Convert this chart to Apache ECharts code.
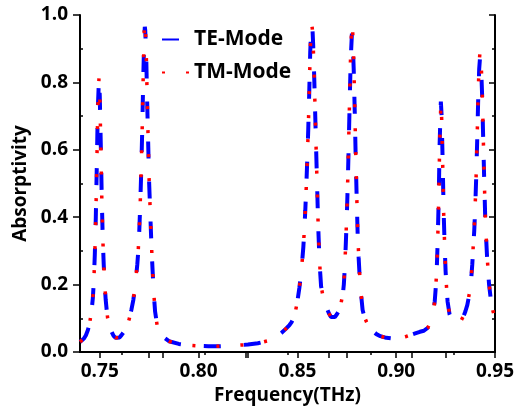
<!DOCTYPE html>
<html>
<head>
<meta charset="utf-8">
<script src="https://cdn.jsdelivr.net/npm/echarts@6/dist/echarts.min.js"></script>
<style>
  html, body { margin: 0; padding: 0; background: #fff; }
  #container { width: 524px; height: 410px; }
</style>
</head>
<body>
<div id="container"></div>
<script>
const freq = [
  0.740, 0.742, 0.743, 0.744, 0.745, 0.746, 0.7465, 0.747, 0.7475, 0.748,
  0.7485, 0.749, 0.7496, 0.750, 0.7505, 0.751, 0.7515, 0.752, 0.7525, 0.753,
  0.7535, 0.754, 0.755, 0.756, 0.757, 0.758, 0.759, 0.760, 0.761, 0.762,
  0.763, 0.764, 0.765, 0.766, 0.767, 0.768, 0.769, 0.7695, 0.770, 0.7705,
  0.771, 0.7715, 0.772, 0.7725, 0.7728, 0.773, 0.7735, 0.774, 0.7745, 0.775,
  0.7755, 0.776, 0.7765, 0.777, 0.7775, 0.778, 0.779, 0.780, 0.782, 0.785,
  0.790, 0.795, 0.800, 0.805, 0.810, 0.815, 0.820, 0.825, 0.830, 0.835,
  0.838, 0.840, 0.842, 0.844, 0.846, 0.847, 0.848, 0.849, 0.850, 0.851,
  0.852, 0.853, 0.8535, 0.854, 0.8545, 0.855, 0.8555, 0.856, 0.8565, 0.857,
  0.8573, 0.8577, 0.858, 0.8585, 0.859, 0.8595, 0.860, 0.8605, 0.861, 0.8615,
  0.862, 0.863, 0.864, 0.865, 0.866, 0.867, 0.868, 0.869, 0.870, 0.871,
  0.872, 0.873, 0.8735, 0.874, 0.8745, 0.875, 0.8755, 0.876, 0.8765, 0.877,
  0.8776, 0.878, 0.8785, 0.879, 0.8795, 0.880, 0.8805, 0.881, 0.8815, 0.882,
  0.883, 0.884, 0.885, 0.886, 0.888, 0.890, 0.892, 0.895, 0.898, 0.900,
  0.903, 0.905, 0.908, 0.910, 0.912, 0.914, 0.915, 0.916, 0.917, 0.918,
  0.919, 0.9195, 0.920, 0.9205, 0.921, 0.9215, 0.922, 0.9226, 0.923, 0.9235,
  0.924, 0.9245, 0.925, 0.9255, 0.926, 0.927, 0.928, 0.929, 0.930, 0.931,
  0.932, 0.933, 0.934, 0.935, 0.936, 0.937, 0.938, 0.9385, 0.939, 0.9395,
  0.940, 0.9405, 0.941, 0.9415, 0.942, 0.9424, 0.943, 0.9435, 0.944, 0.9445,
  0.945, 0.9455, 0.946, 0.947, 0.948, 0.949, 0.950
]

const teMode = [
  0.030, 0.040, 0.050, 0.065, 0.090, 0.130, 0.160, 0.210, 0.290, 0.400,
  0.550, 0.720, 0.810, 0.760, 0.620, 0.460, 0.340, 0.260, 0.200, 0.155,
  0.125, 0.100, 0.075, 0.060, 0.048, 0.042, 0.040, 0.043, 0.050, 0.058,
  0.065, 0.080, 0.100, 0.125, 0.155, 0.200, 0.260, 0.300, 0.360, 0.440,
  0.540, 0.660, 0.810, 0.930, 0.965, 0.955, 0.880, 0.740, 0.620, 0.500,
  0.420, 0.340, 0.270, 0.210, 0.160, 0.120, 0.080, 0.060, 0.045, 0.032,
  0.024, 0.020, 0.018, 0.017, 0.017, 0.018, 0.020, 0.022, 0.026, 0.033,
  0.040, 0.047, 0.057, 0.068, 0.080, 0.088, 0.100, 0.120, 0.150, 0.190,
  0.240, 0.310, 0.360, 0.420, 0.490, 0.570, 0.660, 0.770, 0.890, 0.960,
  0.970, 0.950, 0.910, 0.820, 0.710, 0.600, 0.490, 0.380, 0.300, 0.240,
  0.195, 0.165, 0.145, 0.128, 0.114, 0.104, 0.100, 0.104, 0.112, 0.122,
  0.140, 0.170, 0.200, 0.250, 0.320, 0.400, 0.500, 0.620, 0.750, 0.870,
  0.945, 0.920, 0.840, 0.720, 0.580, 0.460, 0.350, 0.280, 0.225, 0.185,
  0.125, 0.102, 0.088, 0.078, 0.063, 0.053, 0.047, 0.042, 0.040, 0.040,
  0.043, 0.046, 0.052, 0.056, 0.060, 0.063, 0.066, 0.072, 0.085, 0.105,
  0.130, 0.150, 0.190, 0.240, 0.330, 0.450, 0.620, 0.743, 0.700, 0.570,
  0.420, 0.320, 0.240, 0.190, 0.150, 0.112, 0.096, 0.089, 0.086, 0.085,
  0.088, 0.095, 0.105, 0.120, 0.140, 0.170, 0.220, 0.260, 0.310, 0.360,
  0.430, 0.520, 0.630, 0.750, 0.840, 0.872, 0.840, 0.760, 0.640, 0.520,
  0.410, 0.340, 0.280, 0.200, 0.150, 0.120, 0.100
]

const tmMode = [
  0.030, 0.040, 0.050, 0.065, 0.090, 0.130, 0.160, 0.210, 0.290, 0.400,
  0.550, 0.720, 0.812, 0.765, 0.625, 0.465, 0.345, 0.262, 0.200, 0.155,
  0.125, 0.100, 0.075, 0.060, 0.048, 0.042, 0.040, 0.043, 0.050, 0.058,
  0.066, 0.080, 0.100, 0.126, 0.157, 0.202, 0.263, 0.304, 0.365, 0.446,
  0.548, 0.670, 0.822, 0.950, 0.980, 0.972, 0.895, 0.752, 0.628, 0.506,
  0.425, 0.344, 0.272, 0.212, 0.161, 0.121, 0.080, 0.060, 0.045, 0.032,
  0.024, 0.020, 0.018, 0.017, 0.017, 0.018, 0.020, 0.022, 0.026, 0.033,
  0.040, 0.047, 0.057, 0.068, 0.080, 0.088, 0.100, 0.120, 0.150, 0.190,
  0.240, 0.310, 0.360, 0.420, 0.490, 0.570, 0.660, 0.772, 0.892, 0.962,
  0.972, 0.952, 0.912, 0.822, 0.712, 0.600, 0.490, 0.380, 0.300, 0.240,
  0.195, 0.165, 0.145, 0.128, 0.114, 0.104, 0.100, 0.105, 0.113, 0.124,
  0.142, 0.173, 0.204, 0.256, 0.328, 0.410, 0.514, 0.638, 0.772, 0.898,
  0.975, 0.950, 0.866, 0.742, 0.598, 0.474, 0.360, 0.288, 0.230, 0.188,
  0.127, 0.103, 0.089, 0.078, 0.063, 0.053, 0.047, 0.042, 0.040, 0.040,
  0.043, 0.046, 0.052, 0.056, 0.060, 0.063, 0.066, 0.072, 0.085, 0.105,
  0.130, 0.150, 0.190, 0.240, 0.330, 0.448, 0.615, 0.738, 0.695, 0.566,
  0.418, 0.320, 0.240, 0.190, 0.150, 0.112, 0.096, 0.089, 0.086, 0.085,
  0.088, 0.095, 0.106, 0.121, 0.142, 0.173, 0.224, 0.265, 0.316, 0.368,
  0.440, 0.532, 0.645, 0.768, 0.860, 0.890, 0.858, 0.776, 0.654, 0.531,
  0.418, 0.346, 0.285, 0.203, 0.152, 0.121, 0.100
]

const xLabels = [0.75, 0.80, 0.85, 0.90, 0.95]
const xTicks = [0.75, 0.775, 0.80, 0.825, 0.85, 0.875, 0.90, 0.925, 0.95]
const topLong = [0.782, 0.824, 0.866, 0.908, 0.95]
const topShort = [0.761, 0.803, 0.845, 0.887, 0.929]
const yMinor = [0.1, 0.3, 0.5, 0.7, 0.9]

const font = '"Open Sans", sans-serif'
const black = '#000'

const chart = echarts.init(document.getElementById('container'))

const hidden = { show: false }
const xBase = { type: 'value', min: 0.74, max: 0.95, splitLine: hidden }
const yBase = { type: 'value', min: 0, max: 1, splitLine: hidden }
const bold = size => ({ fontFamily: font, fontWeight: 'bold', fontSize: size, color: black })

chart.setOption({
  backgroundColor: '#fff',
  animation: false,
  grid: { left: 80, right: 29, top: 15, bottom: 58, outerBoundsMode: 'none' },
  legend: {
    data: ['TE-Mode', 'TM-Mode'],
    orient: 'vertical',
    left: 156,
    top: 24,
    itemWidth: 27,
    itemHeight: 14,
    itemGap: 12,
    itemTextGap: 13,
    itemStyle: { opacity: 0 },
    textStyle: bold(21)
  },
  xAxis: [
    {
      ...xBase,
      position: 'bottom',
      name: 'Frequency(THz)',
      nameLocation: 'middle',
      nameGap: 33,
      nameTextStyle: bold(19),
      axisLine: { lineStyle: { color: black, width: 2 } },
      axisTick: { customValues: xTicks, length: 6, lineStyle: { color: black, width: 1.5 } },
      axisLabel: { customValues: xLabels, margin: 10, formatter: v => v.toFixed(2), ...bold(19) }
    },
    {
      ...xBase,
      position: 'top',
      axisLine: { lineStyle: { color: black, width: 2 } },
      axisTick: { inside: true, customValues: topLong, length: 6, lineStyle: { color: black, width: 1.5 } },
      axisLabel: hidden
    },
    {
      ...xBase,
      position: 'top',
      axisLine: hidden,
      axisTick: { inside: true, customValues: topShort, length: 3, lineStyle: { color: black, width: 1.5 } },
      axisLabel: hidden
    }
  ],
  yAxis: [
    {
      ...yBase,
      position: 'left',
      interval: 0.2,
      name: 'Absorptivity',
      nameLocation: 'middle',
      nameGap: 41,
      nameTextStyle: bold(19),
      axisLine: { show: true, lineStyle: { color: black, width: 2 } },
      axisTick: { show: true, length: 7, lineStyle: { color: black, width: 1.5 } },
      axisLabel: { margin: 12, formatter: v => v.toFixed(1), ...bold(19) }
    },
    {
      ...yBase,
      position: 'left',
      axisLine: hidden,
      axisTick: { show: true, inside: true, customValues: yMinor, length: 3, lineStyle: { color: black, width: 1.5 } },
      axisLabel: hidden
    },
    {
      ...yBase,
      position: 'right',
      interval: 0.2,
      axisLine: { show: true, lineStyle: { color: black, width: 2 } },
      axisTick: { show: true, inside: true, length: 6, lineStyle: { color: black, width: 1.5 } },
      axisLabel: hidden
    },
    {
      ...yBase,
      position: 'right',
      axisLine: hidden,
      axisTick: { show: true, inside: true, customValues: yMinor, length: 3, lineStyle: { color: black, width: 1.5 } },
      axisLabel: hidden
    }
  ],
  series: [
    {
      name: 'TE-Mode',
      type: 'line',
      symbol: 'none',
      xAxisIndex: 0,
      yAxisIndex: 0,
      lineStyle: { color: '#0000ff', width: 4, type: [17, 23], cap: 'butt' },
      itemStyle: { color: '#0000ff' },
      data: freq.map((f, i) => [f, teMode[i]])
    },
    {
      name: 'TM-Mode',
      type: 'line',
      symbol: 'none',
      xAxisIndex: 0,
      yAxisIndex: 0,
      lineStyle: { color: '#ff0000', width: 3.5, type: [3, 21], cap: 'butt' },
      itemStyle: { color: '#ff0000' },
      data: freq.map((f, i) => [f, tmMode[i]])
    }
  ]
})
</script>
</body>
</html>
